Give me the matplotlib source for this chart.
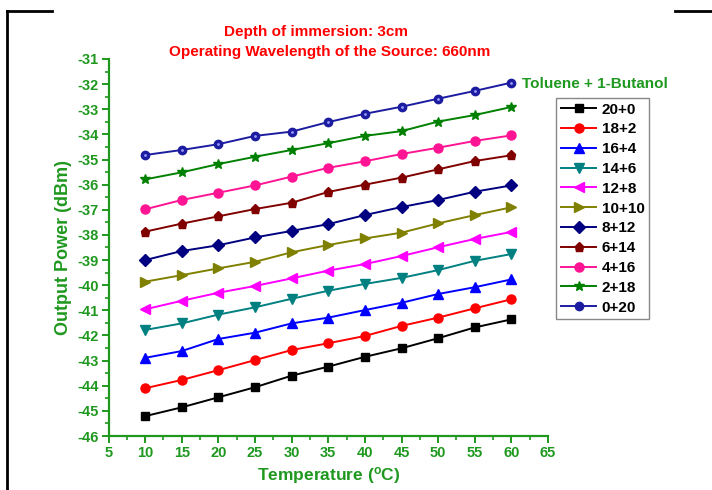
import matplotlib
matplotlib.use('Agg')
import matplotlib.pyplot as plt
from matplotlib.lines import Line2D
from matplotlib.ticker import MultipleLocator

plt.rcParams['font.family'] = ['Liberation Sans', 'DejaVu Sans']
plt.rcParams['font.weight'] = 'bold'
plt.rcParams['axes.unicode_minus'] = False
plt.rcParams['mathtext.fontset'] = 'custom'
plt.rcParams['mathtext.rm'] = 'Liberation Sans:bold'
plt.rcParams['mathtext.bf'] = 'Liberation Sans:bold'
plt.rcParams['mathtext.default'] = 'bf'

temp = [10, 15, 20, 25, 30, 35, 40, 45, 50, 55, 60]

labels = ['20+0', '18+2', '16+4', '14+6', '12+8', '10+10',
          '8+12', '6+14', '4+16', '2+18', '0+20']

p_20_0 = [-45.21, -44.86, -44.46, -44.06, -43.60, -43.24, -42.85, -42.51, -42.11, -41.68, -41.36]
p_18_2 = [-44.10, -43.77, -43.38, -42.98, -42.58, -42.31, -42.02, -41.62, -41.29, -40.92, -40.56]
p_16_4 = [-42.89, -42.62, -42.14, -41.89, -41.52, -41.29, -40.99, -40.70, -40.35, -40.08, -39.77]
p_14_6 = [-41.78, -41.52, -41.17, -40.88, -40.54, -40.22, -39.95, -39.71, -39.40, -39.03, -38.76]
p_12_8 = [-40.96, -40.62, -40.30, -40.03, -39.73, -39.42, -39.16, -38.84, -38.49, -38.16, -37.88]
p_10_10 = [-39.86, -39.60, -39.33, -39.07, -38.69, -38.40, -38.14, -37.91, -37.54, -37.21, -36.90]
p_8_12 = [-39.00, -38.64, -38.41, -38.10, -37.84, -37.57, -37.21, -36.89, -36.61, -36.28, -36.03]
p_6_14 = [-37.87, -37.55, -37.26, -36.97, -36.72, -36.29, -36.00, -35.72, -35.39, -35.06, -34.83]
p_4_16 = [-36.98, -36.61, -36.32, -36.03, -35.68, -35.33, -35.07, -34.78, -34.53, -34.26, -34.04]
p_2_18 = [-35.79, -35.51, -35.18, -34.89, -34.62, -34.35, -34.06, -33.87, -33.49, -33.23, -32.91]
p_0_20 = [-34.82, -34.62, -34.39, -34.06, -33.89, -33.51, -33.18, -32.90, -32.58, -32.27, -31.94]

series = [p_20_0, p_18_2, p_16_4, p_14_6, p_12_8, p_10_10,
          p_8_12, p_6_14, p_4_16, p_2_18, p_0_20]
colors = ['black', 'red', 'blue', '#008080', '#ff00ff', '#808000',
          '#000080', '#800000', '#ff1493', '#008000', '#1c1ca0']
markers = ['s', 'o', '^', 'v', '<', '>', 'D', 'p', 'o', '*', 'o']
msizes = [6, 6.5, 6.5, 6.5, 6.5, 6.5, 6, 6.5, 6.5, 7.5, 6]

green = '#1f981f'

fig = plt.figure(figsize=(7.12, 4.90), dpi=100)
ax = fig.add_axes([0.1524, 0.1102, 0.6173, 0.7694])

handles = []
for y, c, m, ms, lab in zip(series, colors, markers, msizes, labels):
    h, = ax.plot(temp, y, color=c, marker=m, markersize=ms, linewidth=1.4,
                 markeredgecolor=c, label=lab)
    handles.append(h)
# little highlight on the 0+20 spheres
ax.plot(temp, p_0_20, linestyle='none', marker='o', markersize=2,
        color='#9a9aff', markeredgewidth=0)

ax.set_xlim(5, 65)
ax.set_ylim(-46, -31)
ax.xaxis.set_major_locator(MultipleLocator(5))
ax.xaxis.set_minor_locator(MultipleLocator(2.5))
ax.yaxis.set_major_locator(MultipleLocator(1))
ax.yaxis.set_minor_locator(MultipleLocator(0.5))

for s in ['top', 'right']:
    ax.spines[s].set_visible(False)
for s in ['left', 'bottom']:
    ax.spines[s].set_color(green)
    ax.spines[s].set_linewidth(1.6)

ax.tick_params(which='major', direction='out', length=5, width=1.4, color=green,
               labelcolor=green, labelsize=10.5, pad=2)
ax.tick_params(which='minor', direction='out', length=3, width=1.2, color=green)
for t in ax.get_xticklabels() + ax.get_yticklabels():
    t.set_fontweight('bold')

ax.set_xlabel('Temperature ($^{o}$C)', color=green, fontsize=12.5,
              fontweight='bold', labelpad=4)
ax.set_ylabel('Output Power (dBm)', color=green, fontsize=13,
              fontweight='bold', labelpad=4)

fig.text(316 / 712, 1 - 32 / 490, 'Depth of immersion: 3cm', color='red',
         fontsize=11, fontweight='bold', ha='center', va='center')
fig.text(330 / 712, 1 - 52 / 490, 'Operating Wavelength of the Source: 660nm',
         color='red', fontsize=11, fontweight='bold', ha='center', va='center')
fig.text(522 / 712, 1 - 84 / 490, 'Toluene + 1-Butanol', color=green,
         fontsize=11, fontweight='bold', ha='left', va='center')

leg = fig.legend(handles=handles, loc='upper left',
                 bbox_to_anchor=(556 / 712, 1 - 98 / 490),
                 prop={'size': 11, 'weight': 'bold'}, handlelength=2.35,
                 handletextpad=0.35, labelspacing=0.38, borderpad=0.3,
                 borderaxespad=0, fancybox=False, framealpha=1)
leg.get_frame().set_edgecolor('#888888')
leg.get_frame().set_linewidth(1.0)

# outer frame of the picture
fig.add_artist(Line2D([7 / 712, 7 / 712], [0, 1 - 11 / 490],
                      transform=fig.transFigure, color='black', linewidth=2))
fig.add_artist(Line2D([7 / 712, 52 / 712], [1 - 11 / 490, 1 - 11 / 490],
                      transform=fig.transFigure, color='black', linewidth=2))
fig.add_artist(Line2D([675 / 712, 1], [1 - 11 / 490, 1 - 11 / 490],
                      transform=fig.transFigure, color='black', linewidth=2))

fig.savefig('out.png', dpi=100)
